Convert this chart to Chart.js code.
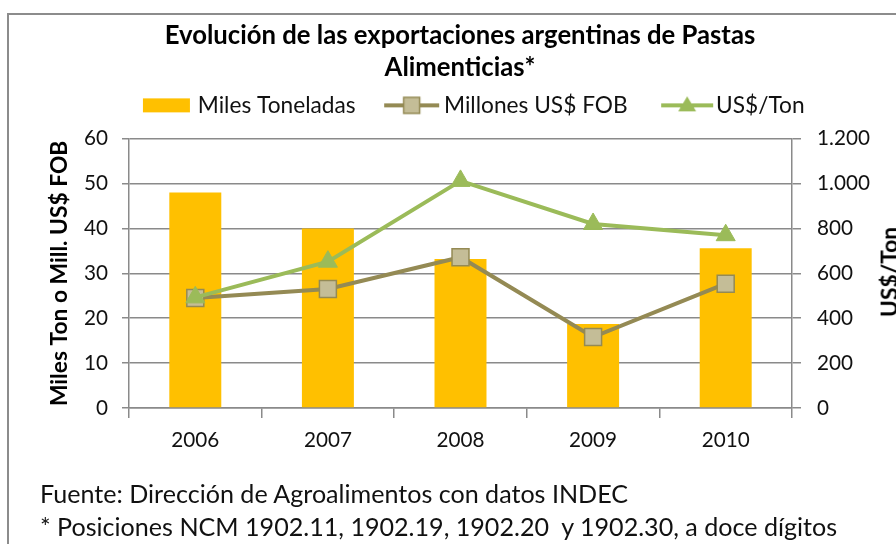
<!DOCTYPE html>
<html><head><meta charset="utf-8">
<script src="https://cdn.jsdelivr.net/npm/chart.js@4/dist/chart.umd.min.js"></script>
<style>
html,body{margin:0;padding:0;width:896px;height:544px;overflow:hidden;background:#fff;}
#frame{position:absolute;left:7px;top:13px;width:900px;height:540px;border:2px solid #8c8c8c;box-sizing:border-box;}
#c{position:absolute;left:0;top:0;}
.note{position:absolute;left:40px;color:#111;white-space:pre;font-family:Lato;line-height:1;}
#rt{position:absolute;left:889px;top:272px;transform:translate(-50%,-50%) rotate(-90deg);font-family:Lato;font-weight:bold;color:#000;white-space:pre;line-height:1;}
</style></head><body>
<div id="frame"></div>
<canvas id="c" width="912" height="544" style="width:912px;height:544px"></canvas>
<div id="n1" class="note">Fuente: Dirección de Agroalimentos con datos INDEC</div>
<div id="n2" class="note">* Posiciones NCM 1902.11, 1902.19, 1902.20  y 1902.30, a doce dígitos</div>
<div id="rt">US$/Ton</div>
<script>
const years = ['2006', '2007', '2008', '2009', '2010'];
const milesToneladas = [48.0, 40.0, 33.2, 18.7, 35.6];
const millonesFOB = [24.5, 26.5, 33.6, 15.8, 27.7];
const usdPorTon = [493, 652, 1012, 820, 770];
const titleLines = ['Evolución de las exportaciones argentinas de Pastas', 'Alimenticias*'];
const seriesNames = ['Miles Toneladas', 'Millones US$ FOB', 'US$/Ton'];
const leftAxisTitle = 'Miles Ton o Mill. US$ FOB';

const FAM = 'Lato';
const mctx = document.createElement('canvas').getContext('2d');
function measure(text, weight, size) { mctx.font = weight + ' ' + size + 'px ' + FAM; return mctx.measureText(text).width; }
function fit(text, weight, target) { return Math.round(20 * target / measure(text, weight, 20) * 10) / 10; }
const titleSize = fit(titleLines[0], 'bold', 590);
const legendSize = fit(seriesNames.join(''), 'normal', 162 + 180 + 88);
const tickSize = fit('2006', 'normal', 48);
const axisTitleSize = fit(leftAxisTitle, 'bold', 265);
const noteSize = fit('Fuente: Dirección de Agroalimentos con datos INDEC', 'normal', 588);

const n1 = document.getElementById('n1'), n2 = document.getElementById('n2');
n1.style.fontSize = noteSize + 'px'; n2.style.fontSize = noteSize + 'px';
n1.style.top = (494 - noteSize / 2) + 'px';
n2.style.top = (527 - noteSize / 2) + 'px';
document.getElementById('rt').style.fontSize = axisTitleSize + 'px';

// legend symbols: image width = box width + font size so its right edge touches the text start
const LP = 6, FS = legendSize;
const SW = Math.round(88 - LP - FS / 2);
const IW = Math.round(SW + FS), IH = 20;
function mk(fn) { const c = document.createElement('canvas'); c.width = IW; c.height = IH; fn(c.getContext('2d')); return c; }
const icoBar = mk(g => { const r = IW - 8; g.fillStyle = '#FFC000'; g.fillRect(r - 47, 3, 47, 14); });
const icoFob = mk(g => {
  const r = IW - 5, l = r - 55, c = (l + r) / 2;
  g.strokeStyle = '#948A54'; g.lineWidth = 4; g.beginPath(); g.moveTo(l, 10); g.lineTo(r, 10); g.stroke();
  g.fillStyle = '#C4BD97'; g.fillRect(c - 8, 2, 16, 16); g.lineWidth = 1.5; g.strokeRect(c - 8, 2, 16, 16);
});
const icoTon = mk(g => {
  const r = IW - 3, l = r - 52, c = (l + r) / 2;
  g.strokeStyle = '#9BBB59'; g.lineWidth = 4; g.beginPath(); g.moveTo(l, 10); g.lineTo(r, 10); g.stroke();
  g.fillStyle = '#9BBB59'; g.beginPath(); g.moveTo(c, 1); g.lineTo(c + 9, 16); g.lineTo(c - 9, 16); g.closePath(); g.fill();
});

const spacer = {
  id: 'spacer',
  beforeInit(chart) {
    Chart.layouts.addBox(chart, {
      position: 'top', weight: -10, fullSize: true, height: 0, width: 0,
      options: { stackWeight: 1 },
      isHorizontal() { return true; },
      update(maxW) { this.width = maxW; this.height = 12; return this.height; },
      draw() {}
    });
  }
};

const gridCol = '#8a8a8a';
const PADL = 8;
new Chart(document.getElementById('c'), {
  data: {
    labels: years,
    datasets: [
      { type: 'bar', label: seriesNames[0], data: milesToneladas, yAxisID: 'y', backgroundColor: '#FFC000',
        barPercentage: 0.392, categoryPercentage: 1, order: 2 },
      { type: 'line', label: seriesNames[1], data: millonesFOB, yAxisID: 'y', borderColor: '#948A54', borderWidth: 4,
        pointStyle: 'rect', pointRadius: 12, pointHoverRadius: 12, pointBackgroundColor: '#C4BD97', pointBorderColor: '#948A54',
        pointBorderWidth: 1.5, tension: 0, order: 1 },
      { type: 'line', label: seriesNames[2], data: usdPorTon, yAxisID: 'y1', borderColor: '#9BBB59', borderWidth: 4,
        pointStyle: 'triangle', pointRadius: 11, pointHoverRadius: 11, pointBackgroundColor: '#9BBB59', pointBorderColor: '#9BBB59',
        pointBorderWidth: 1, tension: 0, order: 0 }
    ]
  },
  options: {
    responsive: false, animation: false,
    layout: { padding: { top: 20, left: PADL, right: 0, bottom: 0 } },
    plugins: {
      tooltip: { enabled: false },
      title: { display: true, text: titleLines, color: '#000', padding: { top: 0, bottom: 4 },
        font: { family: FAM, weight: 'bold', size: titleSize, lineHeight: '32px' } },
      legend: {
        display: true,
        labels: {
          usePointStyle: true, pointStyleWidth: SW, boxHeight: IH, padding: LP, color: '#111',
          font: { family: FAM, size: legendSize },
          generateLabels: () => [
            { text: seriesNames[0], pointStyle: icoBar, datasetIndex: 0, lineWidth: 0, fontColor: '#111' },
            { text: seriesNames[1], pointStyle: icoFob, datasetIndex: 1, lineWidth: 0, fontColor: '#111' },
            { text: seriesNames[2], pointStyle: icoTon, datasetIndex: 2, lineWidth: 0, fontColor: '#111' }
          ]
        }
      }
    },
    scales: {
      x: {
        offset: true,
        grid: { offset: true, drawOnChartArea: false, drawTicks: true, tickLength: 10, color: gridCol, lineWidth: 1.5 },
        border: { color: gridCol, width: 1.5 },
        ticks: { color: '#111', padding: 10, font: { family: FAM, size: tickSize } },
        afterFit: s => { s.height = 136; }
      },
      y: {
        position: 'left', min: 0, max: 60,
        grid: { color: gridCol, lineWidth: 1.5, tickLength: 7 },
        border: { color: gridCol, width: 1.5 },
        ticks: { stepSize: 10, color: '#111', padding: 14, font: { family: FAM, size: tickSize } },
        title: { display: true, text: leftAxisTitle, color: '#000', padding: { top: 60 - PADL - axisTitleSize * 0.6, bottom: 0 },
          font: { family: FAM, weight: 'bold', size: axisTitleSize, lineHeight: 1.2 } },
        afterFit: s => { s.width = 129 - PADL; }
      },
      y1: {
        position: 'right', min: 0, max: 1200,
        grid: { drawOnChartArea: false, color: gridCol, lineWidth: 1.5, tickLength: 9 },
        border: { color: gridCol, width: 1.5 },
        ticks: { stepSize: 200, color: '#111', padding: 16, font: { family: FAM, size: tickSize },
          callback: v => String(v).replace(/\B(?=(\d{3})+(?!\d))/g, '.') },
        afterFit: s => { s.width = 912 - 792; }
      }
    }
  },
  plugins: [spacer]
});
</script>
</body></html>
